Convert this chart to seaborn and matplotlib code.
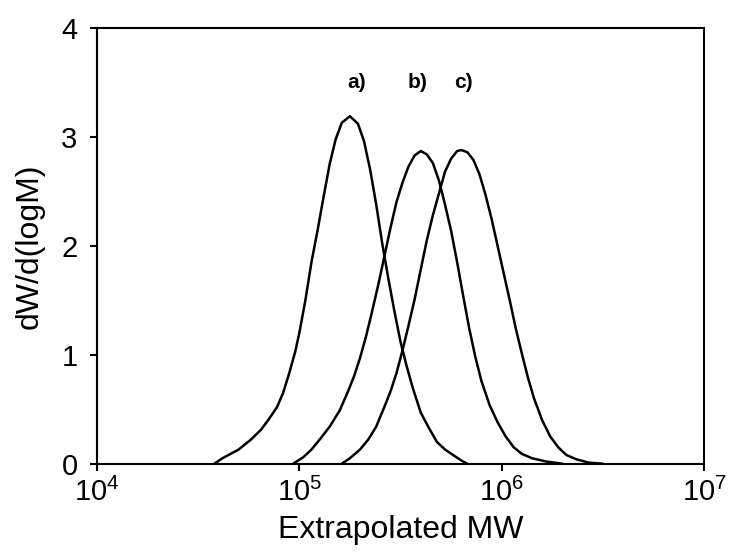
import numpy as np
import pandas as pd
import matplotlib
matplotlib.use("Agg")
import matplotlib.pyplot as plt
import seaborn as sns

# log10(M) and dW/d(logM)
a_logM = [4.58, 4.62, 4.70, 4.76, 4.81, 4.85, 4.89, 4.92, 4.95, 4.98, 5.00, 5.03, 5.06,
          5.09, 5.12, 5.15, 5.18, 5.21, 5.25, 5.29, 5.32, 5.35, 5.38, 5.41, 5.44, 5.47,
          5.50, 5.53, 5.56, 5.60, 5.64, 5.68, 5.72, 5.76, 5.80, 5.83]
a_w = [0.0, 0.05, 0.13, 0.22, 0.31, 0.41, 0.52, 0.65, 0.83, 1.03, 1.20, 1.50, 1.85,
       2.14, 2.45, 2.75, 2.98, 3.13, 3.19, 3.12, 2.96, 2.70, 2.38, 2.02, 1.70, 1.40,
       1.12, 0.90, 0.70, 0.47, 0.33, 0.20, 0.13, 0.08, 0.03, 0.0]

b_logM = [4.97, 5.02, 5.06, 5.10, 5.15, 5.20, 5.24, 5.27, 5.30, 5.33, 5.36, 5.39, 5.42,
          5.45, 5.48, 5.51, 5.54, 5.57, 5.60, 5.63, 5.66, 5.69, 5.72, 5.75, 5.78, 5.81,
          5.84, 5.87, 5.90, 5.94, 5.98, 6.02, 6.06, 6.10, 6.15, 6.22, 6.30]
b_w = [0.0, 0.06, 0.13, 0.22, 0.34, 0.49, 0.66, 0.80, 0.97, 1.17, 1.40, 1.64, 1.90,
       2.16, 2.40, 2.58, 2.73, 2.83, 2.87, 2.84, 2.76, 2.60, 2.38, 2.14, 1.85, 1.54,
       1.24, 0.98, 0.76, 0.54, 0.38, 0.25, 0.15, 0.09, 0.05, 0.02, 0.0]

c_logM = [5.21, 5.25, 5.30, 5.34, 5.38, 5.42, 5.45, 5.48, 5.51, 5.54, 5.57, 5.60, 5.63,
          5.66, 5.69, 5.72, 5.75, 5.78, 5.80, 5.83, 5.86, 5.89, 5.92, 5.95, 5.98, 6.01,
          6.04, 6.07, 6.10, 6.13, 6.16, 6.20, 6.24, 6.28, 6.32, 6.37, 6.43, 6.50]
c_w = [0.0, 0.05, 0.13, 0.22, 0.34, 0.52, 0.66, 0.83, 1.04, 1.27, 1.51, 1.78, 2.05,
       2.28, 2.48, 2.68, 2.80, 2.87, 2.88, 2.86, 2.79, 2.66, 2.47, 2.25, 2.00, 1.75,
       1.50, 1.24, 1.01, 0.79, 0.60, 0.40, 0.25, 0.15, 0.08, 0.04, 0.01, 0.0]

labels = ["a)", "b)", "c)"]
label_logM = [5.285, 5.582, 5.81]
label_y = [3.5, 3.5, 3.5]

frames = []
for name, lm, w in zip(labels, [a_logM, b_logM, c_logM], [a_w, b_w, c_w]):
    frames.append(pd.DataFrame({"MW": 10 ** np.array(lm), "w": w, "sample": name}))
df = pd.concat(frames, ignore_index=True)

sns.set_style("ticks")
plt.rcParams["font.family"] = ["Liberation Sans", "DejaVu Sans"]
plt.rcParams["mathtext.fontset"] = "custom"
plt.rcParams["mathtext.rm"] = "Liberation Sans"
plt.rcParams["mathtext.it"] = "Liberation Sans:italic"
plt.rcParams["mathtext.bf"] = "Liberation Sans:bold"
plt.rcParams["text.color"] = "black"
plt.rcParams["axes.labelcolor"] = "black"
plt.rcParams["xtick.color"] = "black"
plt.rcParams["ytick.color"] = "black"

fig = plt.figure(figsize=(7.33, 5.54), dpi=100)
ax = fig.add_axes([0.1323, 0.163, 0.8281, 0.7865])

sns.lineplot(data=df, x="MW", y="w", units="sample", estimator=None, color="black",
             linewidth=1.8, sort=False, ax=ax, legend=False)

ax.set_xscale("log")
ax.set_xlim(1e4, 1e7)
ax.set_ylim(0, 4)
ax.set_yticks([0, 1, 2, 3, 4])
ax.xaxis.set_minor_locator(matplotlib.ticker.NullLocator())

for s in ax.spines.values():
    s.set_linewidth(1.5)
    s.set_color("black")
    s.set_visible(True)

ax.tick_params(axis="both", which="major", direction="out", length=5, width=1.5,
               labelsize=21, colors="black")
ax.tick_params(axis="y", pad=9)
ax.tick_params(axis="x", pad=5)

ax.set_xlabel("Extrapolated MW", fontsize=23, labelpad=6, color="black")
ax.set_ylabel("dW/d(logM)", fontsize=23, labelpad=12, color="black")

for t, lm, yy in zip(labels, label_logM, label_y):
    ax.text(10 ** lm, yy, t, fontsize=15, fontweight="bold", ha="center", va="center",
            color="black")

fig.savefig("out.png", dpi=100)
